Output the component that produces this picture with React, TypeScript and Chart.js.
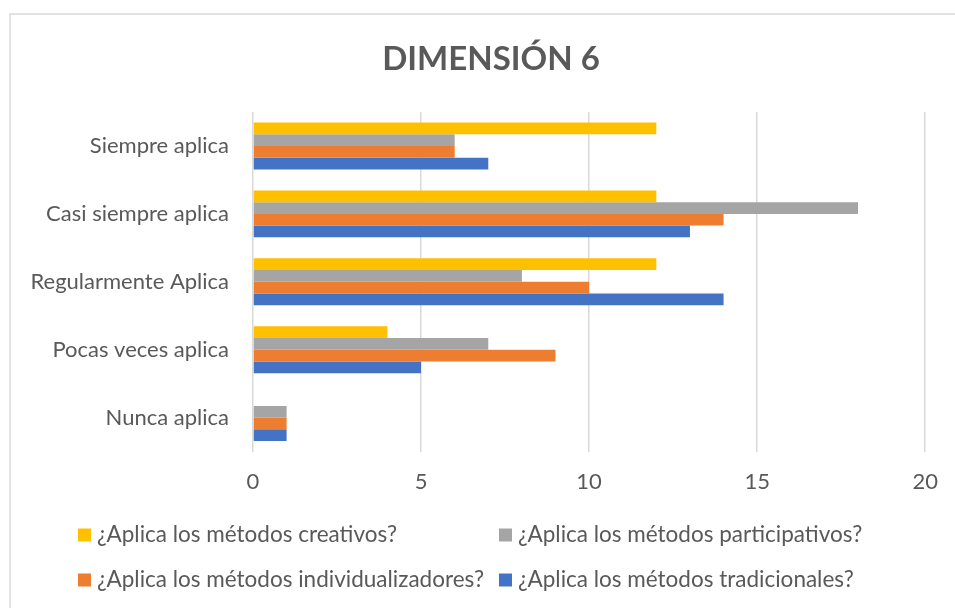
import React, { useEffect, useRef } from "react";
import { Chart, registerables } from "chart.js";

Chart.register(...registerables);

const categories = [
  "Siempre aplica",
  "Casi siempre aplica",
  "Regularmente Aplica",
  "Pocas veces aplica",
  "Nunca aplica",
];

const seriesNames = [
  "¿Aplica los métodos creativos?",
  "¿Aplica los métodos participativos?",
  "¿Aplica los métodos individualizadores?",
  "¿Aplica los métodos tradicionales?",
];

const creativos = [12, 12, 12, 4, 0];
const participativos = [6, 18, 8, 7, 1];
const individualizadores = [6, 14, 10, 9, 1];
const tradicionales = [7, 13, 14, 5, 1];

const seriesColors = ["#FFC000", "#A5A5A5", "#ED7D31", "#4472C4"];

const xTicks = [0, 5, 10, 15, 20];

const chartTitle = "DIMENSIÓN 6";

const FONT = "Lato";
const TEXT = "#595959";

const bgPlugin = {
  id: "bgBorder",
  beforeDraw(chart: any) {
    const ctx = chart.ctx;
    ctx.save();
    ctx.fillStyle = "#ffffff";
    ctx.fillRect(0, 0, chart.width, chart.height);
    ctx.strokeStyle = "#d9d9d9";
    ctx.lineWidth = 1.5;
    ctx.strokeRect(10, 14, chart.width + 20, chart.height + 20);
    ctx.restore();
  },
};

const titlePlugin = {
  id: "customTitle",
  afterDraw(chart: any) {
    const ctx = chart.ctx;
    ctx.save();
    ctx.font = `bold 33px ${FONT}`;
    ctx.fillStyle = TEXT;
    ctx.textAlign = "center";
    ctx.textBaseline = "middle";
    ctx.fillText(chartTitle, 491, 59);
    ctx.restore();
  },
};

const legendPlugin = {
  id: "gridLegend",
  afterDraw(chart: any) {
    const ctx = chart.ctx;
    const cols = [78, 499];
    const rows = [535, 580];
    ctx.save();
    ctx.font = `22.5px ${FONT}`;
    ctx.textBaseline = "middle";
    ctx.textAlign = "left";
    chart.data.datasets.forEach((ds: any, i: number) => {
      const x = cols[i % 2];
      const y = rows[Math.floor(i / 2)];
      ctx.fillStyle = ds.backgroundColor;
      ctx.fillRect(x, y - 6.5, 13, 13);
      ctx.fillStyle = TEXT;
      ctx.fillText(ds.label, x + 19, y);
    });
    ctx.restore();
  },
};

export default function App() {
  const ref = useRef<HTMLCanvasElement>(null);

  useEffect(() => {
    if (!ref.current) return;
    const values = [creativos, participativos, individualizadores, tradicionales];
    const chart = new Chart(ref.current, {
      type: "bar",
      data: {
        labels: categories,
        datasets: seriesNames.map((name, i) => ({
          label: name,
          data: values[i],
          backgroundColor: seriesColors[i],
          borderWidth: 0,
          categoryPercentage: 0.69,
          barPercentage: 1,
        })),
      },
      options: {
        indexAxis: "y",
        responsive: false,
        animation: false,
        layout: {
          autoPadding: false,
          padding: { top: 112, left: 0, right: 26, bottom: 96 },
        },
        plugins: {
          legend: { display: false },
          tooltip: { enabled: false },
          title: { display: false },
        },
        scales: {
          x: {
            min: 0,
            max: 20,
            afterBuildTicks(scale: any) {
              scale.ticks = xTicks.map((v) => ({ value: v }));
            },
            grid: { color: "#d9d9d9", lineWidth: 1.5, drawTicks: false },
            border: { display: false },
            ticks: {
              color: TEXT,
              font: { family: FONT, size: 22 },
              padding: 17,
            },
          },
          y: {
            afterFit(scale: any) {
              scale.width = 253;
            },
            grid: { display: false, drawTicks: false },
            border: { display: false },
            ticks: {
              color: TEXT,
              font: { family: FONT, size: 22 },
              padding: 24,
            },
          },
        },
      },
      plugins: [bgPlugin, titlePlugin, legendPlugin],
    });
    return () => chart.destroy();
  }, []);

  return (
    <div style={{ position: "fixed", left: 0, top: 0, width: 955, height: 608 }}>
      <canvas ref={ref} width={955} height={608} style={{ width: 955, height: 608 }} />
    </div>
  );
}
